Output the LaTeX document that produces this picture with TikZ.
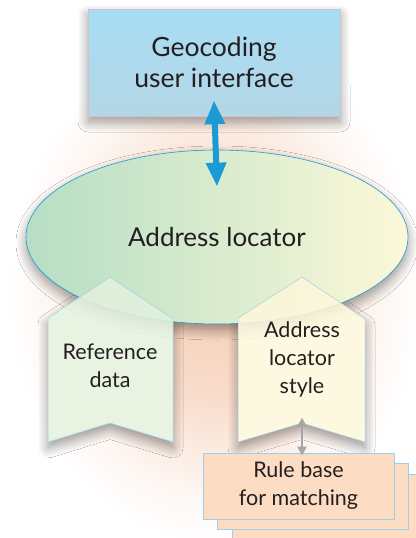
\documentclass[tikz,border=0pt]{standalone}
\usepackage{fontspec}
\setmainfont{Lato}
\usetikzlibrary{positioning,arrows.meta,shapes.geometric,shadows.blur}
\definecolor{textgray}{HTML}{231F20}
\definecolor{uitop}{HTML}{A8DDF4}
\definecolor{uibot}{HTML}{B4D6E6}
\definecolor{locleft}{HTML}{B6DEC4}
\definecolor{locright}{HTML}{FCF8D8}
\definecolor{edgeblue}{HTML}{1B9AD6}
\definecolor{paleblue}{HTML}{9BCFEA}
\definecolor{refgreen}{HTML}{E4F1DE}
\definecolor{styleyellow}{HTML}{FDF7DB}
\definecolor{rulepeach}{HTML}{FDDCC4}
\definecolor{glowpeach}{HTML}{F6CDB4}
\pgfdeclareradialshading{peachglow}{\pgfpoint{0bp}{0bp}}{color(0bp)=(glowpeach);color(10bp)=(glowpeach!70);color(19bp)=(glowpeach!18);color(24bp)=(white);color(50bp)=(white)}

\begin{document}
\begin{tikzpicture}[x=1pt,y=-1pt,
  every node/.style={font=\fontsize{21.5}{28}\selectfont,text=textgray,align=center},
  soft/.style={blur shadow={shadow xshift=0pt,shadow yshift=-6pt,shadow blur steps=10,shadow blur radius=10pt,shadow opacity=40}},
  uibox/.style={draw=gray!45,top color=uitop,bottom color=uibot,minimum width=252pt,minimum height=107pt,soft},
  locator/.style={ellipse,draw=edgeblue,line width=0.6pt,left color=locleft,right color=locright,minimum width=382pt,minimum height=174pt,soft,font=\fontsize{26}{30}\selectfont},
  arrowshape/.style={draw=paleblue,line width=0.5pt,fill opacity=0.85},
  rulebox/.style={draw=paleblue,line width=0.8pt,fill=rulepeach,minimum width=191pt,minimum height=66pt},
  bigarrow/.style={edgeblue,line width=6pt,{Triangle[width=19pt,length=24pt]}-{Triangle[width=19pt,length=24pt]}},
  smallarrow/.style={gray!70,line width=2.5pt,{Triangle[width=9pt,length=9pt]}-{Triangle[width=9pt,length=9pt]}}]
\useasboundingbox (0,0) rectangle (415,538);
% faint glow behind the whole figure
\shade[shading=peachglow] (215,290) ellipse (215 and 265);
% shadows of the two inputs, below the locator
\path[soft,fill=white] (48,318) -- (110,277) -- (173,319) -- (173,442) -- (110,423) -- (48,442) -- cycle;
\path[soft,fill=white] (238,318) -- (302,277) -- (365,319) -- (365,442) -- (302,423) -- (238,442) -- cycle;
% user interface and locator
\node[uibox,font=\fontsize{26.5}{31}\selectfont] (ui) at (214,62.5) {Geocoding\\user interface};
\node[locator] (loc) at (217,237) {Address locator};
% the two inputs
\path[arrowshape,fill=refgreen] (48,318) -- (110,277) -- (173,319) -- (173,442) -- (110,423) -- (48,442) -- cycle;
\path[arrowshape,fill=styleyellow] (238,318) -- (302,277) -- (365,319) -- (365,442) -- (302,423) -- (238,442) -- cycle;
\node (refdata) at (110,366) {Reference\\data};
\node (lstyle) at (302,359) {Address\\locator\\style};
% stacked rule bases
\node[rulebox] (rules3) at (327.5,507) {};
\node[rulebox] (rules2) at (313,496) {};
\node[rulebox] (rules) at (298.5,486) {Rule base\\for matching};
% connectors
\draw[bigarrow] ([yshift=16pt]ui.south) -- ([yshift=-37pt]loc.north);
\draw[smallarrow] ([xshift=3.5pt,yshift=-3pt]rules.north) -- ([xshift=3.5pt,yshift=35pt]rules.north);
\end{tikzpicture}
\end{document}
